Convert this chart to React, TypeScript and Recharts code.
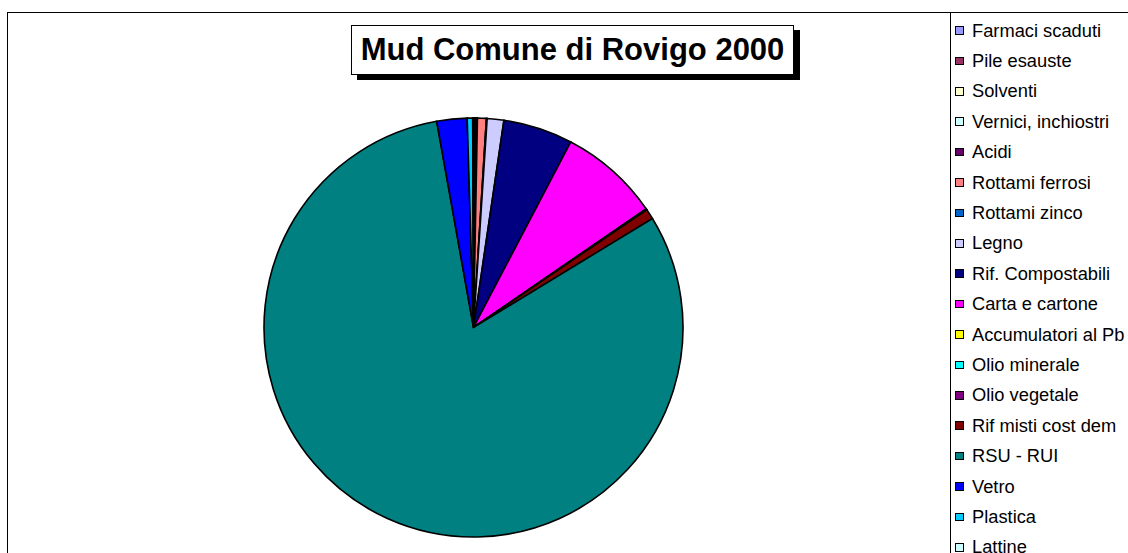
import React from "react";
import { PieChart, Pie, Cell, Legend } from "recharts";

const categories = [
  "Farmaci scaduti",
  "Pile esauste",
  "Solventi",
  "Vernici, inchiostri",
  "Acidi",
  "Rottami ferrosi",
  "Rottami zinco",
  "Legno",
  "Rif. Compostabili",
  "Carta e cartone",
  "Accumulatori al Pb",
  "Olio minerale",
  "Olio vegetale",
  "Rif misti cost dem",
  "RSU - RUI",
  "Vetro",
  "Plastica",
  "Lattine",
];

const values = [
  0.06, 0.06, 0.06, 0.06, 0.06, 0.68, 0.06, 1.28, 5.36, 7.72, 0.03, 0.03, 0.03,
  0.79, 80.83, 2.33, 0.42, 0.06,
];

const colors = [
  "#9999FF",
  "#993366",
  "#FFFFCC",
  "#CCFFFF",
  "#660066",
  "#FF8080",
  "#0066CC",
  "#CCCCFF",
  "#000080",
  "#FF00FF",
  "#FFFF00",
  "#00FFFF",
  "#800080",
  "#800000",
  "#008080",
  "#0000FF",
  "#00CCFF",
  "#CCFFFF",
];

const title = "Mud Comune di Rovigo 2000";

const data = categories.map((name, i) => ({ name, value: values[i] }));

const FONT = "'Liberation Sans', Arial, Helvetica, sans-serif";

const LegendContent = () => {
  return (
    <div style={{ position: "relative", width: 200, height: 560 }}>
      {categories.map((name, i) => {
        const cy = 18.5 + i * 30.4;
        return (
          <div
            key={name}
            style={{
              position: "absolute",
              left: 0,
              top: cy - 10,
              height: 20,
              display: "flex",
              alignItems: "center",
              whiteSpace: "nowrap",
            }}
          >
            <div
              style={{
                width: 6.5,
                height: 6.5,
                marginLeft: 5,
                background: colors[i],
                border: "1.5px solid #000",
              }}
            />
            <span
              style={{
                marginLeft: 8.5,
                fontFamily: FONT,
                fontSize: 18.3,
                color: "#000",
                lineHeight: "20px",
              }}
            >
              {name}
            </span>
          </div>
        );
      })}
    </div>
  );
};

export default function App() {
  return (
    <div
      style={{
        position: "absolute",
        left: 0,
        top: 0,
        width: 1128,
        height: 553,
        overflow: "hidden",
        background: "#fff",
      }}
    >
      {/* outer chart border */}
      <div
        style={{
          position: "absolute",
          left: 7,
          top: 11.5,
          width: 1200,
          height: 600,
          borderLeft: "1.8px solid #000",
          borderTop: "1.8px solid #000",
        }}
      />
      {/* legend box border */}
      <div
        style={{
          position: "absolute",
          left: 950,
          top: 11.5,
          width: 300,
          height: 600,
          borderLeft: "1.8px solid #000",
          borderTop: "1.8px solid #000",
        }}
      />
      <div style={{ position: "absolute", left: 0, top: 0 }}>
        <PieChart width={1128} height={553} margin={{ top: 0, right: 0, bottom: 0, left: 0 }}>
          <Pie
            data={data}
            dataKey="value"
            nameKey="name"
            cx={473.5}
            cy={327.5}
            outerRadius={209.5}
            startAngle={90}
            endAngle={-270}
            stroke="#000"
            strokeWidth={1.6}
            isAnimationActive={false}
          >
            {data.map((d, i) => (
              <Cell key={d.name} fill={colors[i]} stroke="#000" strokeWidth={1.6} />
            ))}
          </Pie>
          <Legend
            layout="vertical"
            align="right"
            verticalAlign="top"
            content={<LegendContent />}
            wrapperStyle={{ position: "absolute", left: 950, top: 12, width: 200, height: 560 }}
          />
        </PieChart>
      </div>
      {/* title */}
      <div
        style={{
          position: "absolute",
          left: 351,
          top: 25,
          width: 441,
          height: 48,
          border: "1.5px solid #000",
          background: "#fff",
          boxShadow: "6px 5px 0 #000",
          display: "flex",
          alignItems: "center",
          justifyContent: "center",
          fontFamily: FONT,
          fontWeight: "bold",
          fontSize: 31,
          color: "#000",
          whiteSpace: "nowrap",
        }}
      >
        {title}
      </div>
    </div>
  );
}
